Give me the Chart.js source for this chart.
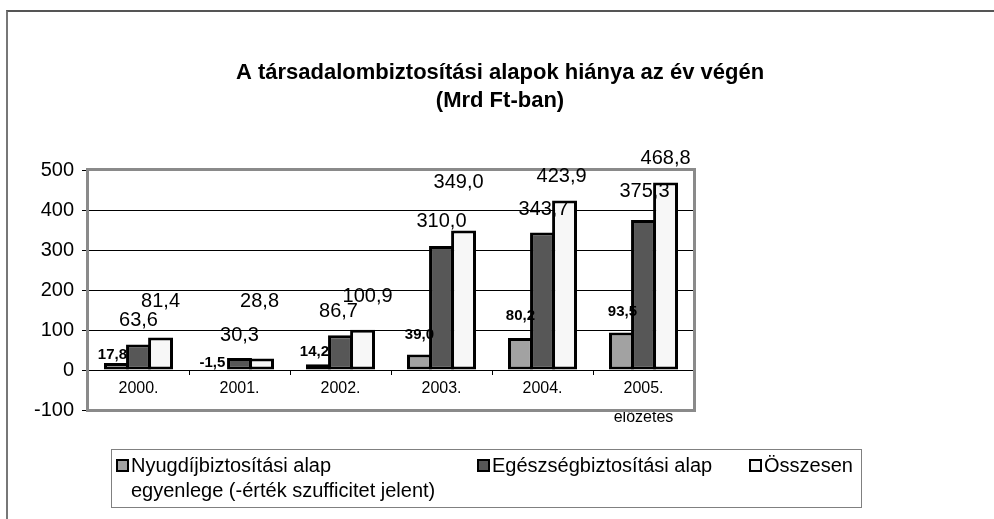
<!DOCTYPE html>
<html>
<head>
<meta charset="utf-8">
<title>A társadalombiztosítási alapok hiánya</title>
<script src="https://cdn.jsdelivr.net/npm/chart.js@4.4.0/dist/chart.umd.min.js"></script>
<style>
  html, body { margin: 0; padding: 0; background: #fff; }
  #wrap { position: relative; width: 994px; height: 519px; overflow: hidden; }
  #frame { position: absolute; left: 6px; top: 10px; right: -4px; bottom: -4px; border-top: 2px solid #555; border-left: 2px solid #777; }
  canvas { position: absolute; left: 0; top: 0; }
</style>
</head>
<body>
<div id="wrap">
  <div id="frame"></div>
  <canvas id="chart" width="994" height="519"></canvas>
</div>
<script>
// --- Data ---
var categories = ['2000.', '2001.', '2002.', '2003.', '2004.', ['2005.', 'előzetes']];
var nyugdijValues = [17.8, -1.5, 14.2, 39.0, 80.2, 93.5];
var egeszsegValues = [63.6, 30.3, 86.7, 310.0, 343.7, 375.3];
var osszesenValues = [81.4, 28.8, 100.9, 349.0, 423.9, 468.8];
var seriesNames = [
  'Nyugdíjbiztosítási alap\negyenlege (-érték szufficitet jelent)',
  'Egészségbiztosítási alap',
  'Összesen'
];
var yTicks = [-100, 0, 100, 200, 300, 400, 500];
var titleLines = ['A társadalombiztosítási alapok hiánya az év végén', '(Mrd Ft-ban)'];

// --- Styles ---
var fontFamily = '"Liberation Sans", Arial, sans-serif';
var seriesColors = ['#a2a2a2', '#575757', '#f7f7f7'];

// label nudges (dx, dy from the top centre of each bar), like the hand-moved labels in the original
var labelOffsets = [
  [[-4, -8], [-5, -8], [-4, -12], [0, -20], [0, -22], [1, -21]],
  [[0, -24], [0, -22], [-2, -24], [0, -25], [1, -23], [1, -28]],
  [[0, -36], [-2, -57], [5, -33], [-5, -48], [-3, -24], [0, -24]]
];
var legendItemX = [117, 478, 750];

function formatValue(v) {
  return v.toFixed(1).replace('.', ',');
}

function makeDataset(label, values, color) {
  return {
    label: label,
    data: values,
    backgroundColor: color,
    borderColor: '#000',
    borderWidth: 3,
    borderSkipped: false,
    categoryPercentage: 0.655,
    barPercentage: 1.13
  };
}

/* --- Plugins --- */

// Grey frame round the plot area
var framePlugin = {
  id: 'frame',
  afterDatasetsDraw: function(chart) {
    var a = chart.chartArea;
    var ctx = chart.ctx;
    ctx.save();
    ctx.strokeStyle = '#8a8a8a';
    ctx.lineWidth = 3;
    ctx.strokeRect(a.left - 0.5, a.top - 0.5, a.right - a.left + 1, a.bottom - a.top + 1);
    ctx.restore();
  }
};

// Value labels above the bars
var valueLabelPlugin = {
  id: 'valueLabels',
  afterDatasetsDraw: function(chart) {
    var ctx = chart.ctx;
    ctx.save();
    ctx.fillStyle = '#000';
    ctx.textAlign = 'center';
    ctx.textBaseline = 'middle';
    chart.data.datasets.forEach(function(ds, i) {
      var meta = chart.getDatasetMeta(i);
      ctx.font = (i === 0 ? 'bold 15px ' : '20px ') + fontFamily;
      meta.data.forEach(function(bar, j) {
        var top = Math.min(bar.y, bar.base);
        var off = labelOffsets[i][j];
        ctx.fillText(formatValue(ds.data[j]), bar.x + off[0], top + off[1]);
      });
    });
    ctx.restore();
  }
};

// Title and boxed legend
var titleLegendPlugin = {
  id: 'titleLegend',
  afterDraw: function(chart) {
    var ctx = chart.ctx;
    ctx.save();

    // Title
    ctx.fillStyle = '#000';
    ctx.textAlign = 'center';
    ctx.textBaseline = 'middle';
    ctx.font = 'bold 22px ' + fontFamily;
    ctx.fillText(titleLines[0], 500, 73);
    ctx.fillText(titleLines[1], 500, 101);

    // Legend box
    ctx.strokeStyle = '#808080';
    ctx.lineWidth = 1;
    ctx.strokeRect(111.5, 449.5, 750, 58);

    ctx.font = '20px ' + fontFamily;
    ctx.textAlign = 'left';
    chart.data.datasets.forEach(function(ds, i) {
      var x = legendItemX[i];
      ctx.fillStyle = ds.backgroundColor;
      ctx.fillRect(x, 460, 11, 11);
      ctx.strokeStyle = '#000';
      ctx.lineWidth = 2;
      ctx.strokeRect(x, 460, 11, 11);
      ctx.fillStyle = '#000';
      ds.label.split('\n').forEach(function(line, k) {
        ctx.fillText(line, x + 14, 466 + k * 25);
      });
    });
    ctx.restore();
  }
};

/* --- Chart --- */
var chart = new Chart(document.getElementById('chart'), {
  type: 'bar',
  data: {
    labels: categories,
    datasets: [
      makeDataset(seriesNames[0], nyugdijValues, seriesColors[0]),
      makeDataset(seriesNames[1], egeszsegValues, seriesColors[1]),
      makeDataset(seriesNames[2], osszesenValues, seriesColors[2])
    ]
  },
  options: {
    responsive: false,
    animation: false,
    layout: { padding: { left: 28, top: 170, right: 300, bottom: 109 } },
    plugins: {
      legend: { display: false },
      title: { display: false },
      tooltip: { enabled: false }
    },
    scales: {
      x: {
        position: { y: 0 },
        grid: { drawOnChartArea: false, drawTicks: true, tickLength: 4, color: '#000', lineWidth: 1 },
        border: { display: true, color: '#000', width: 1 },
        ticks: {
          color: '#000',
          padding: 0,
          maxRotation: 0,
          autoSkip: false,
          font: { family: fontFamily, size: 16, lineHeight: 1.8 }
        }
      },
      y: {
        min: yTicks[0],
        max: yTicks[yTicks.length - 1],
        afterFit: function(scale) { scale.width = 60; },
        grid: { color: '#000', lineWidth: 1, drawTicks: true, tickLength: 6 },
        border: { display: false },
        ticks: {
          stepSize: yTicks[1] - yTicks[0],
          color: '#000',
          padding: 8,
          font: { family: fontFamily, size: 20 },
          callback: function(value) { return String(value); }
        }
      }
    }
  },
  plugins: [framePlugin, valueLabelPlugin, titleLegendPlugin]
});
</script>
</body>
</html>
